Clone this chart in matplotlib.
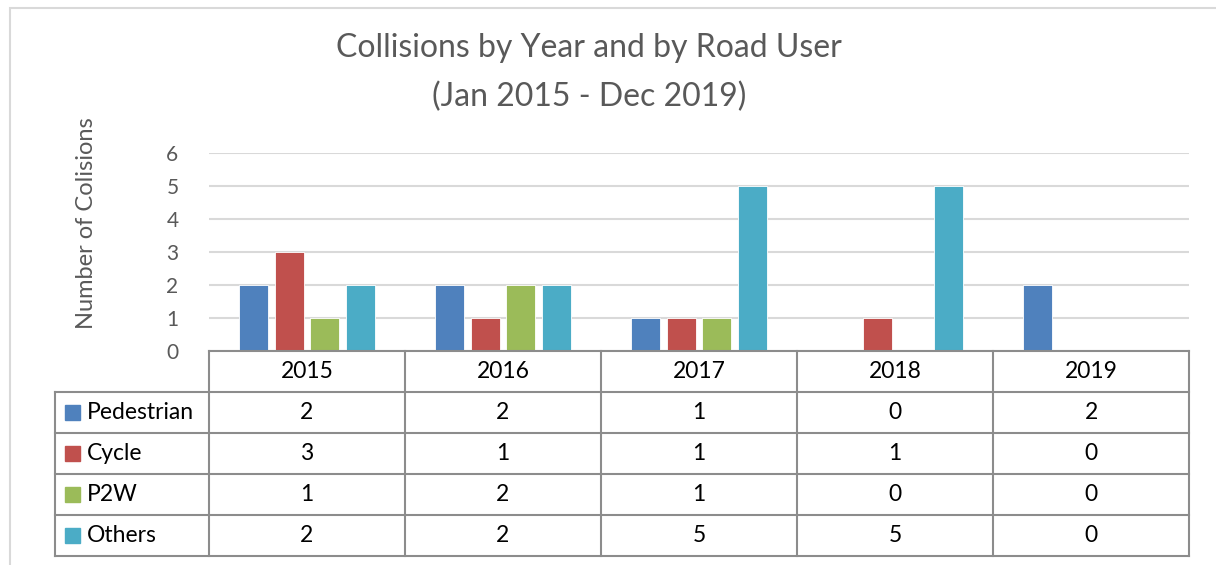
import matplotlib.pyplot as plt
from matplotlib.patches import Rectangle

plt.rcParams['font.family'] = ['Lato', 'DejaVu Sans']

years = ['2015', '2016', '2017', '2018', '2019']
series = ['Pedestrian', 'Cycle', 'P2W', 'Others']
pedestrian = [2, 2, 1, 0, 2]
cycle = [3, 1, 1, 1, 0]
p2w = [1, 2, 1, 0, 0]
others = [2, 2, 5, 5, 0]
colors = ['#4F81BD', '#C0504D', '#9BBB59', '#4BACC6']

W, H = 1216, 565
fig = plt.figure(figsize=(W / 100, H / 100), dpi=100)

def fx(px):
    return px / W

def fy(py):
    return 1 - py / H

# outer chart frame (Excel style)
fig.patches.append(Rectangle((fx(10), fy(575)), fx(1220), fy(8.5) - fy(575),
                             transform=fig.transFigure, fill=False,
                             edgecolor='#d9d9d9', lw=1.5))

# bar plot area
L, R, T, B = 209, 1189, 153, 351
ax = fig.add_axes([fx(L), fy(B), fx(R - L), fy(T) - fy(B)])
data = [pedestrian, cycle, p2w, others]
step, width = 0.181, 0.147
for i, (vals, c) in enumerate(zip(data, colors)):
    xs = [k + (i - 1.5) * step for k in range(len(years))]
    ax.bar(xs, vals, width=width, color=c, edgecolor='white', lw=0.6, zorder=3)
ax.set_xlim(-0.5, 4.5)
ax.set_ylim(0, 6)
ax.set_yticks(range(7))
ax.yaxis.grid(True, color='#d9d9d9', lw=1.5, zorder=0)
ax.tick_params(axis='y', length=0, pad=22, labelsize=15, labelcolor='#595959')
ax.tick_params(axis='x', length=0, labelbottom=False)
for s in ax.spines.values():
    s.set_visible(False)
ax.set_ylabel('Number of Colisions', fontsize=17, color='#595959', labelpad=0)
ax.yaxis.set_label_coords((97 - L) / (R - L), (B - 223) / (B - T))

# data table
TL, TB = 55, 556
tab = fig.add_axes([fx(TL), fy(TB), fx(R - TL), fy(B) - fy(TB)])
left_edge = -0.5 - (L - TL) / 196
tab.set_xlim(left_edge, 4.5)
tab.set_ylim(5, 0)
tab.axis('off')
lc, lw = '#8c8c8c', 1.5
# horizontal lines
tab.plot([-0.5, 4.5], [0, 0], color=lc, lw=lw, clip_on=False)
for r in range(1, 6):
    tab.plot([left_edge, 4.5], [r, r], color=lc, lw=lw, clip_on=False)
# vertical lines
tab.plot([left_edge, left_edge], [1, 5], color=lc, lw=lw, clip_on=False)
for k in range(len(years) + 1):
    tab.plot([k - 0.5, k - 0.5], [0, 5], color=lc, lw=lw, clip_on=False)
fs = 16.5
for k, y in enumerate(years):
    tab.text(k, 0.5, y, ha='center', va='center', fontsize=fs, color='black')
for i, (name, vals, c) in enumerate(zip(series, data, colors)):
    row = i + 1.5
    tab.add_patch(Rectangle((left_edge + 10 / 196, row - 0.19), 15 / 196, 0.37,
                            color=c, clip_on=False))
    tab.text(left_edge + 32 / 196, row, name, ha='left', va='center',
             fontsize=fs, color='black')
    for k, v in enumerate(vals):
        tab.text(k, row, str(v), ha='center', va='center', fontsize=fs, color='black')

fig.text(fx(589), fy(48), 'Collisions by Year and by Road User', ha='center',
         va='center', fontsize=23, color='#595959')
fig.text(fx(589), fy(97), '(Jan 2015 - Dec 2019)', ha='center',
         va='center', fontsize=23, color='#595959')

fig.savefig('out.png', dpi=100)
